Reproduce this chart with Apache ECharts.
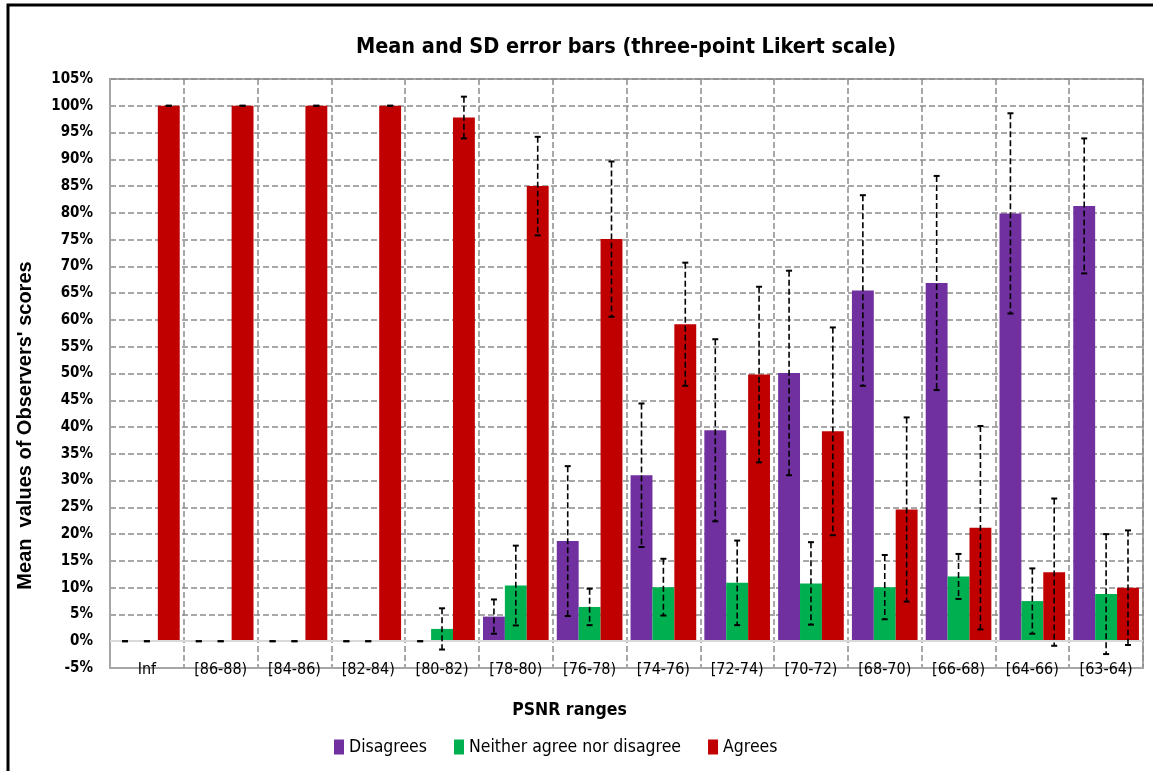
<!DOCTYPE html>
<html>
<head>
<meta charset="utf-8">
<script src="https://cdn.jsdelivr.net/npm/echarts@6/dist/echarts.min.js"></script>
<style>html,body{margin:0;padding:0;background:#fff}#c{width:1153px;height:771px}</style>
</head>
<body>
<div id="c"></div>
<script>
const categories = ['Inf','[86-88)','[84-86)','[82-84)','[80-82)','[78-80)','[76-78)','[74-76)','[72-74)','[70-72)','[68-70)','[66-68)','[64-66)','[63-64)'];
const seriesNames = ['Disagrees','Neither agree nor disagree','Agrees'];
const disagreesMean = [0,0,0,0,0,4.6,18.7,31.0,39.4,50.1,65.5,66.9,79.9,81.3];
const disagreesSD   = [0,0,0,0,0,3.2,14.0,13.4,17.0,19.1,17.8,20.0,18.7,12.6];
const neitherMean   = [0,0,0,0,2.3,10.4,6.4,10.1,10.9,10.8,10.1,12.1,7.5,8.8];
const neitherSD     = [0,0,0,0,3.85,7.45,3.4,5.3,7.9,7.7,6.0,4.2,6.1,11.2];
const agreesMean    = [100,100,100,100,97.8,85.0,75.1,59.2,49.8,39.2,24.6,21.2,12.9,10.0];
const agreesSD      = [0,0,0,0,3.9,9.2,14.5,11.5,16.4,19.4,17.2,19.0,13.75,10.7];
const yTicks = {min:-5, max:105, interval:5};

const colors = ['#7030A0','#00B050','#C00000'];
const means = [disagreesMean, neitherMean, agreesMean];
const sds = [disagreesSD, neitherSD, agreesSD];
const CAT_GAP = 0.11;
const NARROW = "'Liberation Sans Narrow','DejaVu Sans Condensed',sans-serif";

const errData = [];
means.forEach((m, k) => m.forEach((v, i) => errData.push([i, v, sds[k][i], k])));

function renderErr(params, api) {
  const i = api.value(0), m = api.value(1), sd = api.value(2), k = api.value(3);
  const band = api.size([1, 0])[0];
  const barW = band * (1 - CAT_GAP) / 3;
  const cx = api.coord([i, m])[0] + (k - 1) * barW;
  const yTop = api.coord([i, m + sd])[1];
  const yBot = api.coord([i, m - sd])[1];
  const cap = 3;
  return {
    type: 'group',
    children: [
      {type:'line', shape:{x1:cx,y1:yTop,x2:cx,y2:yBot}, style:{stroke:'#000',lineWidth:1.6,lineDash:[6,3]}},
      {type:'line', shape:{x1:cx-cap,y1:yTop,x2:cx+cap,y2:yTop}, style:{stroke:'#000',lineWidth:2}},
      {type:'line', shape:{x1:cx-cap,y1:yBot,x2:cx+cap,y2:yBot}, style:{stroke:'#000',lineWidth:2}}
    ]
  };
}

const barSeries = seriesNames.map((name, k) => ({
  name, type: 'bar', data: means[k],
  barGap: '0%', barCategoryGap: (CAT_GAP*100) + '%',
  itemStyle: {color: colors[k]},
  z: 2,
  markLine: k === 0 ? {silent:true, symbol:'none', label:{show:false},
    lineStyle:{color:'#D9D9D9', type:'solid', width:2}, data:[{yAxis:0}]} : undefined
}));

const chart = echarts.init(document.getElementById('c'), null, {renderer:'canvas'});
chart.setOption({
  animation: false,
  backgroundColor: '#fff',
  grid: {left:110, top:79, right:10, bottom:103, show:true, borderColor:'#A6A6A6', borderWidth:2},
  legend: {
    data: seriesNames, left: 329, top: 733, icon: 'rect', itemWidth: 10, itemHeight: 15, itemGap: 27,
    textStyle: {fontFamily: NARROW, fontSize: 17.5, color: '#000'}
  },
  xAxis: {
    type: 'category', data: categories,
    name: 'PSNR ranges', nameLocation: 'middle', nameGap: 33,
    nameTextStyle: {fontFamily: NARROW, fontSize: 17.5, fontWeight: 'bold', color: '#000', padding:[0,114,0,0]},
    axisLine: {onZero:false, lineStyle:{color:'#A6A6A6', width:2}},
    axisTick: {show:false},
    axisLabel: {fontFamily: NARROW, fontSize: 16, color:'#000', margin: -6, interval: 0},
    splitLine: {show:true, lineStyle:{color:'#8C8C8C', width:1.5, type:[6,3]}}
  },
  yAxis: {
    type: 'value', min: yTicks.min, max: yTicks.max, interval: yTicks.interval,
    name: "Mean  values of Observers' scores", nameLocation: 'middle', nameGap: 75,
    nameTextStyle: {fontFamily: "'Liberation Sans','Arial',sans-serif", fontSize: 20, fontWeight:'bold', color:'#000', padding:[0,104,0,0]},
    axisLine: {show:true, lineStyle:{color:'#A6A6A6', width:2}},
    axisTick: {show:false},
    axisLabel: {formatter:'{value}%', fontFamily: NARROW, fontSize: 15, fontWeight:'bold', color:'#000', margin:17},
    splitLine: {show:true, lineStyle:{color:'#8C8C8C', width:1.5, type:[6,3]}}
  },
  graphic: [
    {type:'rect', shape:{x:8, y:5, width:1150, height:780}, style:{fill:'none', stroke:'#000', lineWidth:3}, z:100},
    {type:'text', x:626, y:47, style:{text:'Mean and SD error bars (three-point Likert scale)', textAlign:'center', textVerticalAlign:'middle',
      font:"bold 21.5px 'Liberation Sans Narrow','DejaVu Sans Condensed',sans-serif", fill:'#000'}}
  ],
  series: barSeries.concat([{
    type: 'custom', name: 'err', data: errData, renderItem: renderErr, z: 5, silent: true,
    encode: {x: 0, y: 1}
  }])
});
</script>
</body>
</html>
